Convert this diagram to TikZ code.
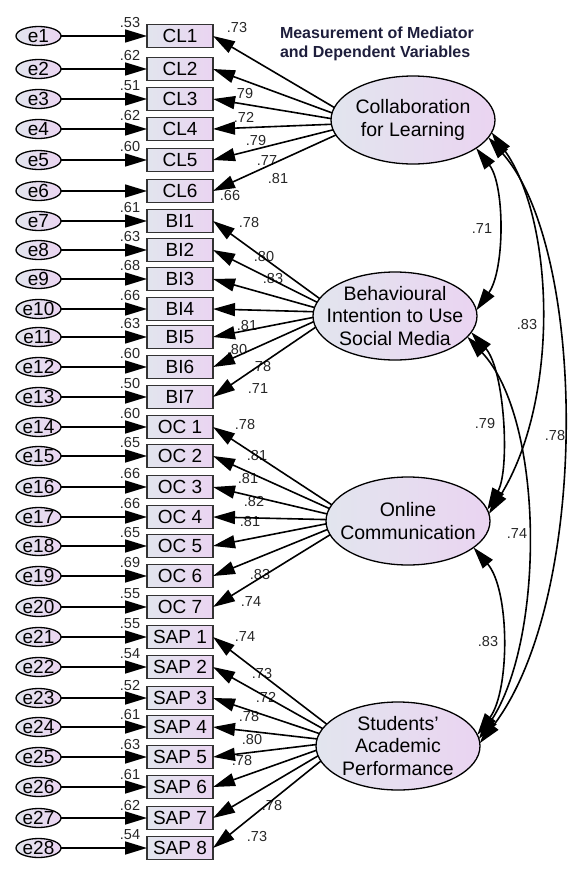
\documentclass[tikz,border=0pt]{standalone}
\usepackage{fontspec}
\setmainfont{Liberation Sans}
\usetikzlibrary{arrows.meta,shapes.geometric}
\definecolor{fillL}{HTML}{E2E5EE}
\definecolor{fillR}{HTML}{EAD4F1}
\definecolor{boxline}{HTML}{333333}
\definecolor{titlecol}{HTML}{1E1E3C}
\begin{document}
\begin{tikzpicture}[x=1pt,y=-1pt,
  every node/.style={inner sep=0pt, outer sep=0pt},
  errnode/.style={ellipse, draw=black, line width=1.3pt, minimum width=45pt,
    minimum height=19pt, left color=fillL, right color=fillR},
  obsnode/.style={rectangle, draw=boxline, line width=1.8pt, minimum width=66pt,
    minimum height=23pt, left color=fillL, right color=fillR},
  latnode/.style={ellipse, draw=black, line width=1.3pt, minimum width=164pt,
    minimum height=88pt, left color=fillL, right color=fillR},
  bigtext/.style={font=\fontsize{19}{19}\selectfont},
  lattext/.style={align=center, font=\fontsize{19.5}{22.5}\selectfont},
  coef/.style={font=\fontsize{14.5}{14.5}\selectfont, text=black!85},
  semtip/.tip={Triangle[length=22pt,width=13pt]},
  loadarrow/.style={line width=1.6pt, -semtip},
  covarrow/.style={line width=1.6pt, semtip-semtip},
]
\useasboundingbox (0,0) rectangle (568,870);

% title
\node[anchor=west, align=left, text=titlecol,
      font=\fontsize{16}{19}\selectfont\bfseries] (title) at (280,43.5)
  {Measurement of Mediator\\and Dependent Variables};

% latent variables
\node[latnode, label={[lattext]center:Collaboration\\for Learning}] (cl) at (413,120) {};
\node[latnode, label={[lattext]center:Behavioural\\Intention to Use\\Social Media}] (bi) at (395,316) {};
\node[latnode, label={[lattext]center:Online\\Communication}] (oc) at (408,521) {};
\node[latnode, label={[lattext]center:Students'\\Academic\\Performance}] (sap) at (398,746) {};

% error terms, indicators and squared multiple correlations
\foreach \i/\t/\y/\r in {1/CL1/36/.53, 2/CL2/69/.62, 3/CL3/99/.51, 4/CL4/129/.62,
    5/CL5/160/.60, 6/CL6/191/, 7/BI1/221/.61, 8/BI2/250/.63, 9/BI3/279/.68,
    10/BI4/309/.66, 11/BI5/337/.63, 12/BI6/367/.60, 13/BI7/397/.50,
    14/OC 1/427/.60, 15/OC 2/456/.65, 16/OC 3/487/.66, 17/OC 4/517/.66,
    18/OC 5/546/.65, 19/OC 6/576/.69, 20/OC 7/607/.55,
    21/SAP 1/637/.55, 22/SAP 2/667/.54, 23/SAP 3/698/.52, 24/SAP 4/727/.61,
    25/SAP 5/757/.63, 26/SAP 6/787/.61, 27/SAP 7/818/.62, 28/SAP 8/848/.54} {
  \node[errnode, label={[bigtext]center:e\i}] (e\i) at (38.5,\y) {};
  \node[obsnode, bigtext] (v\i) at (180,\y) {\t};
  \node[coef] (r\i) at (130,{\y-13}) {\r};
  \draw[loadarrow] (e\i.east) -- (v\i.west);
}
\node[coef] (r6b) at (230,196) {.66};

% standardized loadings
\foreach \x/\y/\t [count=\k] in {237/28/.73, 243/94/.79, 244/117/.72, 256/141/.79,
    267/161/.77, 278/179/.81,
    249/223/.78, 264/257/.80, 273/279/.83, 247/326/.81, 237/350/.80, 261/367/.78, 258/389/.71,
    245/425/.78, 257/456/.81, 248/479/.81, 254/502/.82, 250/522/.81, 260/575/.83, 251/602/.74,
    245/637/.74, 262/674/.73, 266/697/.72, 249/716/.78, 252/739/.80, 242/760/.78,
    272/805/.78, 257/836/.73}
  \node[coef] (lam\k) at (\x,\y) {\t};

% paths from latent variables to indicators
\foreach \j/\a in {1/171, 2/175, 3/179, 4/183, 5/187, 6/191}
  \draw[loadarrow] (cl.\a) -- (v\j.east);
\foreach \j/\a in {7/167, 8/170.5, 9/174, 10/177.5, 11/181, 12/184.5, 13/188}
  \draw[loadarrow] (bi.\a) -- (v\j.east);
\foreach \j/\a in {14/168, 15/171.7, 16/175.3, 17/179, 18/182.7, 19/186.3, 20/190}
  \draw[loadarrow] (oc.\a) -- (v\j.east);
\foreach \j/\a in {21/163, 22/167, 23/171, 24/175, 25/179, 26/183, 27/187, 28/191}
  \draw[loadarrow] (sap.\a) -- (v\j.east);

% correlations between latent variables
\node[coef] (c1) at (482,229) {.71};
\node[coef] (c2) at (527,325) {.83};
\node[coef] (c3) at (485,424) {.79};
\node[coef] (c4) at (555,436) {.78};
\node[coef] (c5) at (517,534) {.74};
\node[coef] (c6) at (488,642) {.83};

\draw[covarrow] (cl.-24) .. controls (505,185) and (505,270) .. (bi.4);
\draw[covarrow] (cl.-9) .. controls (555,220) and (560,400) .. (oc.5);
\draw[covarrow] (cl.-13) .. controls (588,250) and (590,600) .. (sap.2);
\draw[covarrow] (bi.-12) .. controls (505,370) and (510,470) .. (oc.8);
\draw[covarrow] (bi.-16) .. controls (545,420) and (545,640) .. (sap.5);
\draw[covarrow] (oc.-22) .. controls (510,590) and (510,690) .. (sap.8);
\end{tikzpicture}
\end{document}
